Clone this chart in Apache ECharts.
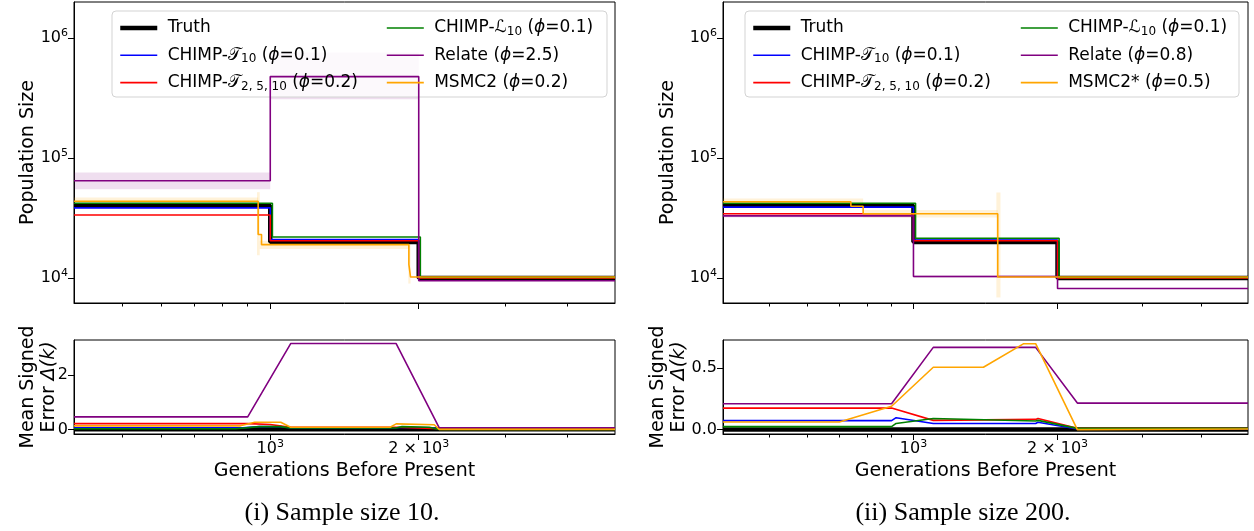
<!DOCTYPE html>
<html>
<head>
<meta charset="utf-8">
<script src="https://cdn.jsdelivr.net/npm/echarts@6/dist/echarts.min.js"></script>
<style>
  html, body { margin: 0; padding: 0; background: #fff; }
  #chart { width: 1254px; height: 531px; }
</style>
</head>
<body>
<div id="chart"></div>
<script>
// axes
const xMin = 400, xMax = 5000;
const xMajor = [1000, 2000];
const xMinor = [500, 600, 700, 800, 900, 3000, 4000];
const xTickLabels = [['10', '3'], ['2 × 10', '3']];
const popTicks = [1e4, 1e5, 1e6];
const popTickLabels = [['10', '4'], ['10', '5'], ['10', '6']];
const errTicksI = [0, 2];
const errTickLabelsI = ['0', '2'];
const errTicksII = [0, 0.5];
const errTickLabelsII = ['0.0', '0.5'];

// (i) sample size 10: population size, step breakpoints and values
const truthX = [400, 1000, 2000, 5000];
const truthN = [40000, 20000, 10000, 10000];
const iT10X = [400, 1000, 2000, 5000];
const iT10N = [38500, 21000, 10000, 10000];
const iT2510X = [400, 1000, 2000, 5000];
const iT2510N = [33600, 20500, 10000, 10000];
const iL10X = [400, 1010, 2015, 5000];
const iL10N = [42000, 22000, 10100, 10100];
const iRelX = [400, 1000, 2000, 5000];
const iRelN = [64700, 478000, 9500, 9500];
const iMsmcX = [400, 945, 960, 1910, 1925, 5000];
const iMsmcN = [43700, 23100, 19000, 13000, 10200, 10200];
// shaded intervals [x0, x1, low, high]
const iRelBand = [[400, 1000, 55000, 76000], [1000, 2000, 310000, 760000]];
const iMsmcBand = [[400, 945, 41000, 47000], [940, 952, 15500, 52000], [952, 1910, 17500, 20500], [1905, 1925, 9000, 20000]];

// (i) mean signed error
const errTruthX = [400, 5000];
const errTruthY = [0, 0];
const eiT10X = [400, 880, 950, 1050, 1100, 1800, 1850, 2150, 2200, 5000];
const eiT10Y = [0.06, 0.06, 0.1, 0.1, 0.06, 0.06, 0.08, 0.06, 0.01, 0.01];
const eiT2510X = [400, 900, 1000, 1100, 1800, 2200, 5000];
const eiT2510Y = [0.21, 0.21, 0.18, 0.08, 0.08, 0.02, 0.02];
const eiL10X = [400, 850, 950, 1050, 1100, 1800, 1850, 2100, 2200, 5000];
const eiL10Y = [0.02, 0.02, 0.1, 0.1, 0.05, 0.05, 0.1, 0.08, 0.0, 0.0];
const eiRelX = [400, 900, 1100, 1800, 2200, 5000];
const eiRelY = [0.46, 0.46, 3.15, 3.15, 0.06, 0.06];
const eiMsmcX = [400, 870, 930, 1050, 1100, 1750, 1800, 2150, 2200, 5000];
const eiMsmcY = [0.13, 0.13, 0.26, 0.26, 0.08, 0.08, 0.2, 0.17, 0.0, 0.0];

// (ii) sample size 200: population size
const iiT10X = [400, 1000, 2000, 5000];
const iiT10N = [39000, 20800, 10000, 10000];
const iiT2510X = [400, 1000, 2000, 5000];
const iiT2510N = [34400, 20500, 10000, 10000];
const iiL10X = [400, 1010, 2015, 5000];
const iiL10N = [42000, 21500, 10100, 10100];
const iiRelX = [400, 1000, 2000, 5000];
const iiRelN = [33000, 10300, 8200, 8200];
const iiMsmcX = [400, 740, 785, 1500, 5000];
const iiMsmcN = [43300, 39700, 34400, 10200, 10200];
const iiRelBand = [[400, 1000, 32000, 34000], [1000, 2000, 10000, 10600]];
const iiMsmcBand = [[400, 785, 41000, 46000], [785, 1500, 32000, 37000], [1490, 1520, 6900, 51700]];

// (ii) mean signed error
const eiiT10X = [400, 900, 920, 1100, 1800, 1820, 2200, 5000];
const eiiT10Y = [0.073, 0.073, 0.097, 0.05, 0.05, 0.06, 0.005, 0.005];
const eiiT2510X = [400, 900, 1100, 1800, 1820, 2200, 5000];
const eiiT2510Y = [0.175, 0.175, 0.075, 0.083, 0.09, 0.01, 0.01];
const eiiL10X = [400, 900, 920, 1100, 1800, 1820, 2200, 5000];
const eiiL10Y = [0.024, 0.024, 0.05, 0.09, 0.07, 0.075, 0.01, 0.01];
const eiiRelX = [400, 900, 1100, 1800, 2200, 5000];
const eiiRelY = [0.211, 0.211, 0.67, 0.67, 0.216, 0.216];
const eiiMsmcX = [400, 700, 900, 1100, 1400, 1700, 1800, 2200, 5000];
const eiiMsmcY = [0.062, 0.062, 0.19, 0.508, 0.508, 0.70, 0.70, 0.0, 0.005];

const labelsI = {
  'i-truth': 'Truth',
  'i-t10': 'CHIMP-{c|𝒯}{sub|10} ({i|ϕ}=0.1)',
  'i-t2510': 'CHIMP-{c|𝒯}{sub|2, 5, 10} ({i|ϕ}=0.2)',
  'i-l10': 'CHIMP-{c|ℒ}{sub|10} ({i|ϕ}=0.1)',
  'i-rel': 'Relate ({i|ϕ}=2.5)',
  'i-msmc': 'MSMC2 ({i|ϕ}=0.2)'
};
const labelsII = {
  'ii-truth': 'Truth',
  'ii-t10': 'CHIMP-{c|𝒯}{sub|10} ({i|ϕ}=0.1)',
  'ii-t2510': 'CHIMP-{c|𝒯}{sub|2, 5, 10} ({i|ϕ}=0.2)',
  'ii-l10': 'CHIMP-{c|ℒ}{sub|10} ({i|ϕ}=0.1)',
  'ii-rel': 'Relate ({i|ϕ}=0.8)',
  'ii-msmc': 'MSMC2* ({i|ϕ}=0.5)'
};

const FONT = 'DejaVu Sans';
const colors = { truth: '#000000', t10: '#0000ff', t2510: '#ff0000', l10: '#008000', rel: '#800080', msmc: '#ffa500' };

const pts = (xs, ys) => xs.map((x, i) => [x, ys[i]]);
const supRich = {
  b: { fontFamily: FONT, fontSize: 16, color: '#000' },
  s: { fontFamily: FONT, fontSize: 11, color: '#000', padding: [0, 0, 9, 0] }
};
const supText = (pair) => '{b|' + pair[0] + '}{s|' + pair[1] + '}';

const grids = [
  { left: 74, top: 2, width: 541, height: 301 },
  { left: 74, top: 340, width: 541, height: 94 },
  { left: 723, top: 2, width: 525, height: 301 },
  { left: 723, top: 340, width: 525, height: 94 }
].map(g => Object.assign(g, { show: true, borderColor: '#000', borderWidth: 1, backgroundColor: 'transparent' }));

function xAxes(gridIndex, withLabels) {
  return [
    {
      type: 'log', logBase: 10, gridIndex, min: xMin, max: xMax, position: 'bottom',
      axisLine: { onZero: false, lineStyle: { color: '#000', width: 1 } },
      axisTick: { customValues: xMajor, length: 6, lineStyle: { color: '#000' } },
      axisLabel: {
        show: withLabels, customValues: xMajor, margin: 5,
        formatter: v => supText(xTickLabels[xMajor.indexOf(Math.round(v))] || ['', '']),
        rich: supRich
      },
      splitLine: { show: false },
      name: withLabels ? 'Generations Before Present' : '',
      nameLocation: 'middle', nameGap: 28, nameMoveOverlap: false,
      nameTextStyle: { fontFamily: FONT, fontSize: 19, color: '#000' }
    },
    {
      type: 'log', logBase: 10, gridIndex, min: xMin, max: xMax, position: 'bottom',
      axisLine: { show: false, onZero: false },
      axisTick: { customValues: xMinor, length: 3.5, lineStyle: { color: '#000' } },
      axisLabel: { show: false },
      splitLine: { show: false }
    }
  ];
}

function popAxis(gridIndex, gap) {
  return {
    type: 'log', logBase: 10, gridIndex, min: 6200, max: 2e6,
    axisLine: { lineStyle: { color: '#000', width: 1 } },
    axisTick: { customValues: popTicks, length: 6, lineStyle: { color: '#000' } },
    axisLabel: {
      customValues: popTicks, margin: 6,
      formatter: v => {
        const k = popTicks.findIndex(t => Math.abs(t - v) / t < 1e-6);
        return k < 0 ? '' : supText(popTickLabels[k]);
      },
      rich: supRich
    },
    splitLine: { show: false },
    name: 'Population Size', nameLocation: 'middle', nameRotate: 90, nameGap: gap, nameMoveOverlap: false,
    nameTextStyle: { fontFamily: FONT, fontSize: 19, color: '#000' }
  };
}

function errAxis(gridIndex, min, max, ticks, labels, gap) {
  return {
    type: 'value', gridIndex, min, max,
    axisLine: { lineStyle: { color: '#000', width: 1 } },
    axisTick: { customValues: ticks, length: 6, lineStyle: { color: '#000' } },
    axisLabel: {
      customValues: ticks, margin: 6, fontFamily: FONT, fontSize: 16, color: '#000',
      formatter: v => { const k = ticks.findIndex(t => Math.abs(t - v) < 1e-9); return k < 0 ? '' : labels[k]; }
    },
    splitLine: { show: false },
    name: 'Mean Signed\nError {i|Δ(k)}', nameLocation: 'middle', nameRotate: 90, nameGap: gap, nameMoveOverlap: false,
    nameTextStyle: {
      fontFamily: FONT, fontSize: 19, color: '#000', lineHeight: 21,
      rich: { i: { fontFamily: FONT, fontSize: 19, fontStyle: 'italic', color: '#000', lineHeight: 21 } }
    }
  };
}

function stepLine(name, xi, yi, xs, ys, key) {
  return {
    type: 'line', name, xAxisIndex: xi, yAxisIndex: yi, data: pts(xs, ys),
    step: 'end', symbol: 'none', showSymbol: false, animation: false, clip: true,
    lineStyle: { color: colors[key], width: key === 'truth' ? 4.5 : 1.6 },
    itemStyle: { color: colors[key] }
  };
}
function errLine(name, xi, yi, xs, ys, key) {
  return {
    type: 'line', name, xAxisIndex: xi, yAxisIndex: yi, data: pts(xs, ys),
    symbol: 'none', showSymbol: false, animation: false, clip: true,
    lineStyle: { color: colors[key], width: key === 'truth' ? 4.5 : 1.6 },
    itemStyle: { color: colors[key] }
  };
}
function band(xi, yi, data, fill) {
  return {
    type: 'custom', xAxisIndex: xi, yAxisIndex: yi, data, silent: true, animation: false, clip: true,
    encode: { x: [0, 1], y: [2, 3] }, z: 1,
    renderItem: (params, api) => {
      const p1 = api.coord([api.value(0), api.value(3)]);
      const p2 = api.coord([api.value(1), api.value(2)]);
      return { type: 'rect', shape: { x: p1[0], y: p1[1], width: p2[0] - p1[0], height: p2[1] - p1[1] }, style: { fill } };
    }
  };
}

const legendRich = {
  c: { fontFamily: FONT, fontSize: 17, color: '#000', lineHeight: 20 },
  sub: { fontFamily: FONT, fontSize: 12, color: '#000', lineHeight: 20, padding: [8, 0, 0, 0] },
  i: { fontFamily: FONT, fontSize: 17, fontStyle: 'italic', color: '#000', lineHeight: 20 }
};
function legend(names, labels, left) {
  return {
    data: names, left, top: 18, orient: 'vertical', itemWidth: 37, itemHeight: 14, itemGap: 7.3,
    padding: 0, z: 5, selectedMode: false,
    lineStyle: { width: 'inherit' },
    itemStyle: { opacity: 0 },
    formatter: n => ' ' + labels[n],
    textStyle: { fontFamily: FONT, fontSize: 17, color: '#000', lineHeight: 20, rich: legendRich }
  };
}

const purpleBand = 'rgba(128,0,128,0.13)';
const orangeBand = 'rgba(255,165,0,0.15)';
const captionFont = '26px "Liberation Serif"';

const option = {
  backgroundColor: '#fff',
  animation: false,
  grid: grids,
  xAxis: [].concat(xAxes(0, false), xAxes(1, true), xAxes(2, false), xAxes(3, true)),
  yAxis: [
    popAxis(0, 36),
    errAxis(1, -0.17, 3.28, errTicksI, errTickLabelsI, 14),
    popAxis(2, 45),
    errAxis(3, -0.036, 0.73, errTicksII, errTickLabelsII, 33)
  ],
  legend: [
    legend(['i-truth', 'i-t10', 'i-t2510'], labelsI, 118),
    legend(['i-l10', 'i-rel', 'i-msmc'], labelsI, 386),
    legend(['ii-truth', 'ii-t10', 'ii-t2510'], labelsII, 751),
    legend(['ii-l10', 'ii-rel', 'ii-msmc'], labelsII, 1020)
  ],
  graphic: [
    { type: 'rect', z: 3, shape: { x: 112, y: 11, width: 495, height: 86, r: 4 }, style: { fill: 'rgba(255,255,255,0.8)', stroke: '#d3d3d3', lineWidth: 1 } },
    { type: 'rect', z: 3, shape: { x: 745, y: 11, width: 494, height: 86, r: 4 }, style: { fill: 'rgba(255,255,255,0.8)', stroke: '#d3d3d3', lineWidth: 1 } },
    { type: 'text', x: 342, y: 513, style: { text: '(i) Sample size 10.', font: captionFont, fill: '#000', align: 'center', verticalAlign: 'middle' } },
    { type: 'text', x: 963, y: 513, style: { text: '(ii) Sample size 200.', font: captionFont, fill: '#000', align: 'center', verticalAlign: 'middle' } }
  ],
  series: [
    band(0, 0, iRelBand, purpleBand),
    band(0, 0, iMsmcBand, orangeBand),
    stepLine('i-truth', 0, 0, truthX, truthN, 'truth'),
    stepLine('i-t10', 0, 0, iT10X, iT10N, 't10'),
    stepLine('i-t2510', 0, 0, iT2510X, iT2510N, 't2510'),
    stepLine('i-l10', 0, 0, iL10X, iL10N, 'l10'),
    stepLine('i-rel', 0, 0, iRelX, iRelN, 'rel'),
    stepLine('i-msmc', 0, 0, iMsmcX, iMsmcN, 'msmc'),

    errLine('i-truth', 2, 1, errTruthX, errTruthY, 'truth'),
    errLine('i-t10', 2, 1, eiT10X, eiT10Y, 't10'),
    errLine('i-t2510', 2, 1, eiT2510X, eiT2510Y, 't2510'),
    errLine('i-l10', 2, 1, eiL10X, eiL10Y, 'l10'),
    errLine('i-rel', 2, 1, eiRelX, eiRelY, 'rel'),
    errLine('i-msmc', 2, 1, eiMsmcX, eiMsmcY, 'msmc'),

    band(4, 2, iiRelBand, purpleBand),
    band(4, 2, iiMsmcBand, orangeBand),
    stepLine('ii-truth', 4, 2, truthX, truthN, 'truth'),
    stepLine('ii-t10', 4, 2, iiT10X, iiT10N, 't10'),
    stepLine('ii-t2510', 4, 2, iiT2510X, iiT2510N, 't2510'),
    stepLine('ii-l10', 4, 2, iiL10X, iiL10N, 'l10'),
    stepLine('ii-rel', 4, 2, iiRelX, iiRelN, 'rel'),
    stepLine('ii-msmc', 4, 2, iiMsmcX, iiMsmcN, 'msmc'),

    errLine('ii-truth', 6, 3, errTruthX, errTruthY, 'truth'),
    errLine('ii-t10', 6, 3, eiiT10X, eiiT10Y, 't10'),
    errLine('ii-t2510', 6, 3, eiiT2510X, eiiT2510Y, 't2510'),
    errLine('ii-l10', 6, 3, eiiL10X, eiiL10Y, 'l10'),
    errLine('ii-rel', 6, 3, eiiRelX, eiiRelY, 'rel'),
    errLine('ii-msmc', 6, 3, eiiMsmcX, eiiMsmcY, 'msmc')
  ]
};

const chart = echarts.init(document.getElementById('chart'), null, { renderer: 'canvas' });
chart.setOption(option);
</script>
</body>
</html>
